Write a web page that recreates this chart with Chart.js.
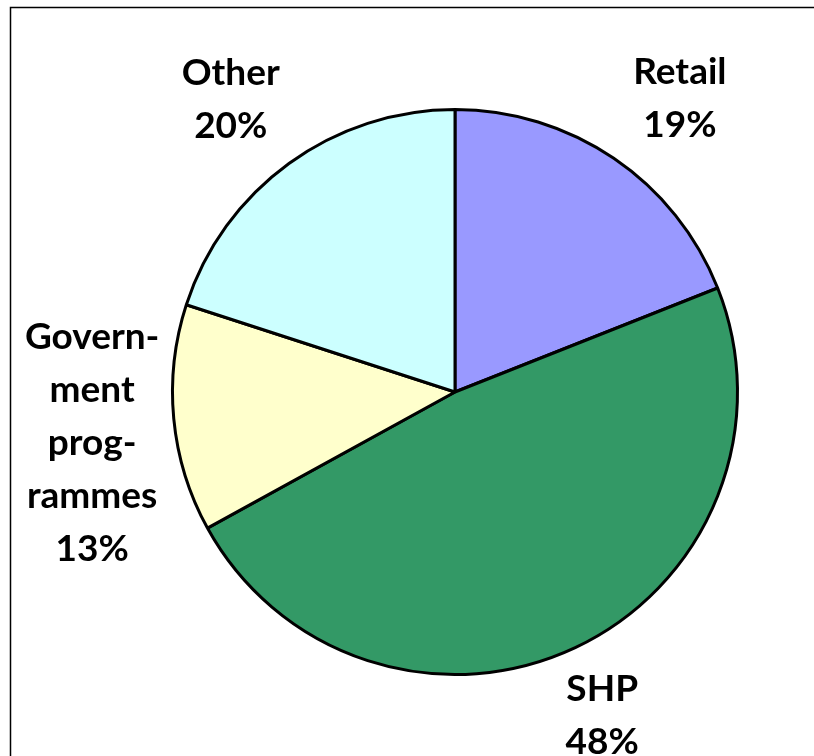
<!DOCTYPE html>
<html>
<head>
<meta charset="UTF-8">
<title>Pie</title>
<script src="https://cdn.jsdelivr.net/npm/chart.js"></script>
<style>
  html, body { margin: 0; padding: 0; background: #fff; }
  #wrap { width: 814px; height: 756px; position: relative; }
</style>
</head>
<body>
<div id="wrap"><canvas id="pie" width="814" height="756"></canvas></div>
<script>
// Data
const categories = ["Retail", "SHP", "Government programmes", "Other"];
const labelLines = [["Retail"], ["SHP"], ["Govern-", "ment", "prog-", "rammes"], ["Other"]];
const shares = [19, 48, 13, 20];
const sliceColors = ["#9999FF", "#339966", "#FFFFCC", "#CCFFFF"];

// small hand nudges so the labels sit where the original put them
const labelNudge = [[20, 8], [-8, -6], [0, 17], [-10, 2]];

// frame line round the plot, cut by the right and bottom edges
const framePlugin = {
  id: "frame",
  beforeDraw(chart) {
    const ctx = chart.ctx;
    ctx.save();
    ctx.strokeStyle = "#000";
    ctx.lineWidth = 1.5;
    ctx.strokeRect(10.5, 7.5, 900, 900);
    ctx.restore();
  }
};

// category name + percent outside each slice
const outsideLabels = {
  id: "outsideLabels",
  afterDatasetsDraw(chart) {
    const ctx = chart.ctx;
    const meta = chart.getDatasetMeta(0);
    const total = shares.reduce((a, b) => a + b, 0);
    ctx.save();
    ctx.font = "bold 37px Lato";
    ctx.fillStyle = "#000";
    ctx.textAlign = "center";
    ctx.textBaseline = "middle";
    const lineH = 53;
    meta.data.forEach((arc, i) => {
      const mid = (arc.startAngle + arc.endAngle) / 2;
      const dist = arc.outerRadius + 82;
      const cx = arc.x + Math.cos(mid) * dist + labelNudge[i][0];
      const cy = arc.y + Math.sin(mid) * dist + labelNudge[i][1];
      const lines = labelLines[i].concat([Math.round(shares[i] / total * 100) + "%"]);
      const top = cy - (lines.length - 1) * lineH / 2;
      lines.forEach((t, k) => ctx.fillText(t, cx, top + k * lineH));
    });
    ctx.restore();
  }
};

new Chart(document.getElementById("pie").getContext("2d"), {
  type: "pie",
  data: {
    labels: categories,
    datasets: [{
      data: shares,
      backgroundColor: sliceColors,
      borderColor: "#000",
      borderWidth: 3,
      borderAlign: "center"
    }]
  },
  options: {
    responsive: false,
    animation: false,
    layout: { padding: { left: 171, right: 75, top: 108, bottom: 80 } },
    plugins: {
      legend: { display: false },
      tooltip: { enabled: false },
      title: { display: false }
    }
  },
  plugins: [framePlugin, outsideLabels]
});
</script>
</body>
</html>
